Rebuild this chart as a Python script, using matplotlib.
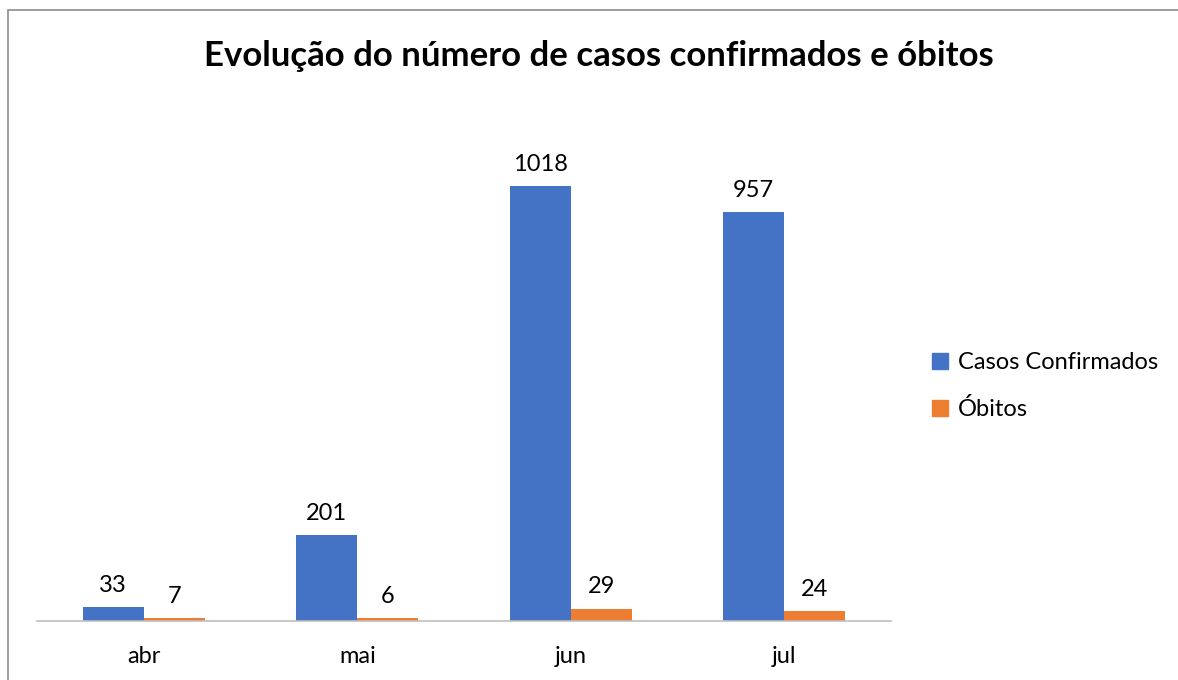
import numpy as np
import matplotlib
matplotlib.use('Agg')
import matplotlib.pyplot as plt
from matplotlib.patches import Rectangle, Patch

meses = ['abr', 'mai', 'jun', 'jul']
casos = [33, 201, 1018, 957]
obitos = [7, 6, 29, 24]

plt.rcParams['font.family'] = ['Lato', 'DejaVu Sans']

fig = plt.figure(figsize=(11.78, 6.8), dpi=100)
ax = fig.add_axes([0.0314, 0.0868, 0.725, 0.754])

x = np.arange(len(meses))
w = 0.286
b1 = ax.bar(x - w / 2, casos, w, color='#4472C4', label='Casos Confirmados')
b2 = ax.bar(x + w / 2, obitos, w, color='#ED7D31', label='Óbitos')

for bars in (b1, b2):
    for r in bars:
        ax.annotate(str(int(r.get_height())), (r.get_x() + r.get_width() / 2, r.get_height()),
                    xytext=(0, 8), textcoords='offset points', ha='center', va='bottom',
                    fontsize=17, color='#000000')

ax.set_xlim(-0.5, 3.5)
ax.set_ylim(0, 1200)
ax.set_xticks(x)
ax.set_xticklabels(meses, fontsize=17)
ax.tick_params(axis='x', length=0, pad=18)
ax.set_yticks([])
for s in ['top', 'right', 'left']:
    ax.spines[s].set_visible(False)
ax.spines['bottom'].set_color('#bfbfbf')
ax.spines['bottom'].set_linewidth(1.2)

fig.text(0.508, 0.918, 'Evolução do número de casos confirmados e óbitos',
         ha='center', va='center', fontsize=25, fontweight='bold')

handles = [Patch(color='#4472C4', label='Casos Confirmados'), Patch(color='#ED7D31', label='Óbitos')]
fig.legend(handles=handles, loc='center left', bbox_to_anchor=(0.773, 0.432), frameon=False,
           fontsize=17, handlelength=0.7, handleheight=0.7, handletextpad=0.4, labelspacing=1.05)

fig.patches.append(Rectangle((8 / 1178, -0.1), 1.2, 1 - 10 / 680 + 0.1, transform=fig.transFigure,
                             fill=False, edgecolor='#8c8c8c', linewidth=1.2))

fig.savefig('out.png', dpi=100)
